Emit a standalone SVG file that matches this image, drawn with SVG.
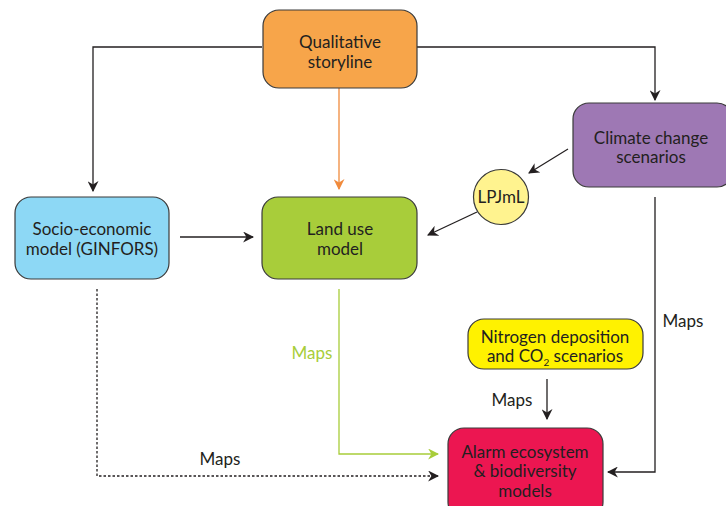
<svg xmlns="http://www.w3.org/2000/svg" width="726" height="506" viewBox="0 0 726 506">
<style>
.box{stroke:#3a3a3a;stroke-width:1.2}
text{font-family:Lato,"Open Sans","Liberation Sans",sans-serif;font-size:17px;fill:#231F20;text-anchor:middle}
.ln{fill:none;stroke:#231F20;stroke-width:1.3}
</style>
<defs>
<marker id="ah" viewBox="0 0 10 10" refX="9" refY="5" markerWidth="11" markerHeight="11" markerUnits="userSpaceOnUse" orient="auto"><path d="M0,0 L10,5 L0,10 L3,5 Z" fill="#231F20"/></marker>
<marker id="ahg" viewBox="0 0 10 10" refX="9" refY="5" markerWidth="11" markerHeight="11" markerUnits="userSpaceOnUse" orient="auto"><path d="M0,0 L10,5 L0,10 L3,5 Z" fill="#A8CD3A"/></marker>
<marker id="aho" viewBox="0 0 10 10" refX="9" refY="5" markerWidth="11" markerHeight="11" markerUnits="userSpaceOnUse" orient="auto"><path d="M0,0 L10,5 L0,10 L3,5 Z" fill="#F08A3C"/></marker>
</defs>
<rect width="726" height="506" fill="#fff"/>
<g id="connectors">
<path class="ln" d="M262,47 H93 V191" marker-end="url(#ah)"/>
<path class="ln" d="M417,47 H655 V100" marker-end="url(#ah)"/>
<path class="ln" style="stroke:#F08A3C" d="M339,88 V189" marker-end="url(#aho)"/>
<path class="ln" d="M180,237 H253" marker-end="url(#ah)"/>
<path class="ln" d="M568,149 L529,173" marker-end="url(#ah)"/>
<path class="ln" d="M477,212 L428,235" marker-end="url(#ah)"/>
<path class="ln" d="M655,197 V472 H608" marker-end="url(#ah)"/>
<path class="ln" d="M547,379 V419" marker-end="url(#ah)"/>
<path class="ln" style="stroke:#A8CD3A" d="M339,289 V454 H438" marker-end="url(#ahg)"/>
<path class="ln" style="stroke-dasharray:2.5,2" d="M97,289 V476 H438" marker-end="url(#ah)"/>
<text x="683" y="327">Maps</text>
<text x="512" y="406">Maps</text>
<text x="312" y="359" style="fill:#A8CD3A">Maps</text>
<text x="220" y="465">Maps</text>
</g>
<g id="qualitative">
<rect class="box" x="263" y="10" width="154" height="78" rx="16" fill="#F7A54A"/>
<text x="340" y="48">Qualitative</text>
<text x="340" y="68">storyline</text>
</g>
<g id="climate">
<rect class="box" x="573" y="103" width="160" height="84" rx="16" fill="#9E78B4"/>
<text x="651" y="144">Climate change</text>
<text x="651" y="163">scenarios</text>
</g>
<g id="lpjml">
<circle class="box" cx="501" cy="197" r="27.5" fill="#FFF38F"/>
<text x="501" y="203">LPJmL</text>
</g>
<g id="socio">
<rect class="box" x="15" y="197" width="154" height="82" rx="16" fill="#8DD8F5"/>
<text x="92" y="235">Socio-economic</text>
<text x="92" y="255">model (GINFORS)</text>
</g>
<g id="landuse">
<rect class="box" x="262" y="197" width="155" height="82" rx="16" fill="#A8CD3A"/>
<text x="340" y="235">Land use</text>
<text x="340" y="255">model</text>
</g>
<g id="nitrogen">
<rect class="box" x="468" y="319" width="175" height="50" rx="16" fill="#FFF200"/>
<text x="555" y="343">Nitrogen deposition</text>
<text x="555" y="362">and CO<tspan font-size="10" dy="4">2</tspan><tspan dy="-4"> scenarios</tspan></text>
</g>
<g id="alarm">
<rect class="box" x="448" y="428" width="155" height="90" rx="16" fill="#EC1651"/>
<text x="525" y="458">Alarm ecosystem</text>
<text x="525" y="477">&amp; biodiversity</text>
<text x="525" y="497">models</text>
</g>
</svg>
